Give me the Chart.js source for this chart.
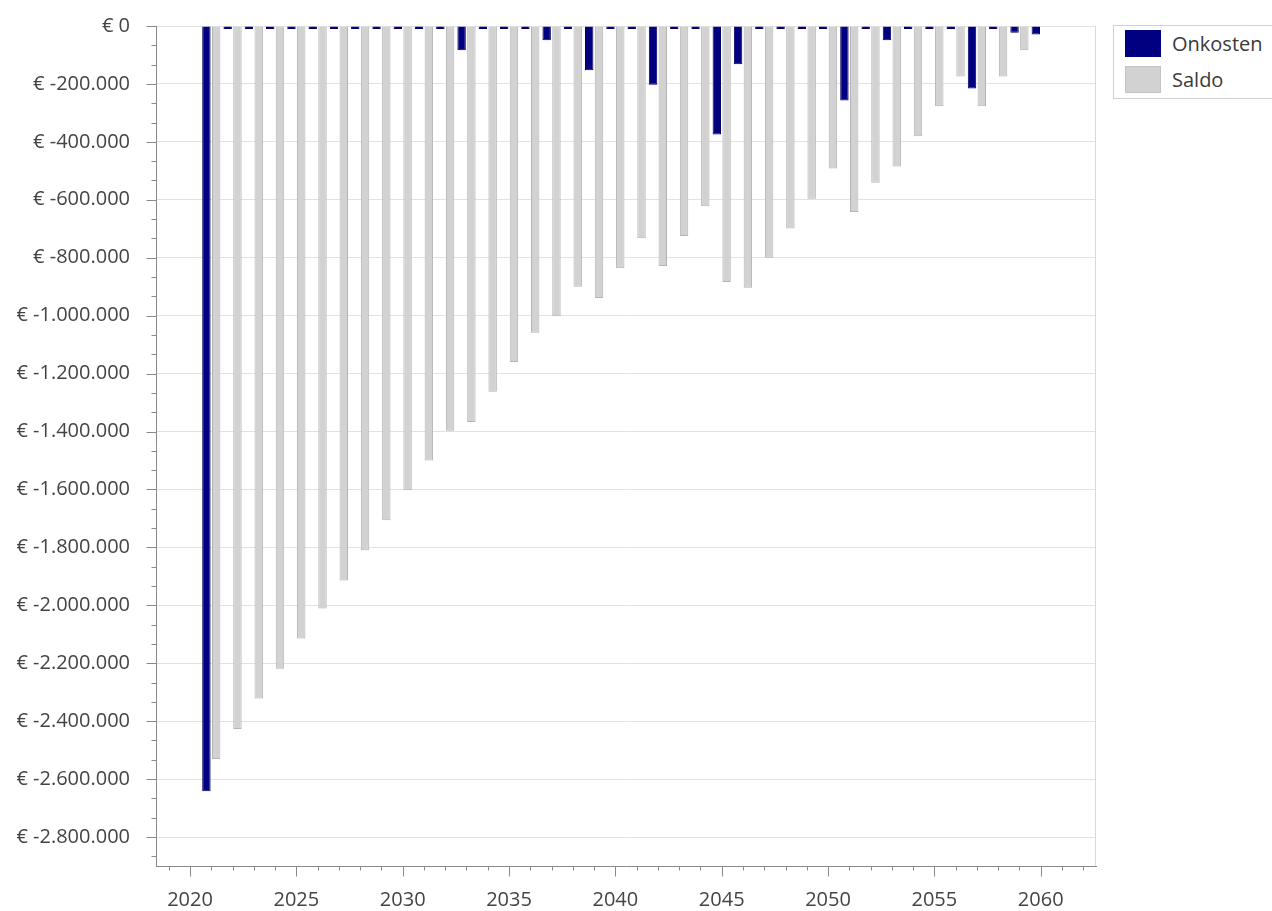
<!DOCTYPE html>
<html>
<head>
<meta charset="utf-8">
<title>Onkosten en saldo per jaar</title>
<script src="https://cdn.jsdelivr.net/npm/chart.js@4/dist/chart.umd.min.js"></script>
<style>
  html, body { margin: 0; padding: 0; background: #ffffff; overflow: hidden; }
  #wrap { position: relative; width: 1272px; height: 911px; }
  #chart { position: absolute; left: 0; top: 0; }
  #legend {
    position: absolute; left: 1113px; top: 25px; width: 200px; height: 74px;
    border: 1px solid #d0d0d0; box-sizing: border-box; background: #fff;
    font-family: "Open Sans", sans-serif; font-size: 20px; color: #3a3a3a;
  }
  #legend .item { position: absolute; left: 11px; height: 27px; display: flex; align-items: center; white-space: nowrap; }
  #legend .sw { width: 36px; height: 27px; box-sizing: border-box; margin-right: 11px; flex: none; }
</style>
</head>
<body>
<div id="wrap">
  <canvas id="chart" width="1272" height="911"></canvas>
  <div id="legend"></div>
</div>
<script>
// Years on the horizontal axis (one pair of bars per year)
const years = [
  2021, 2022, 2023, 2024, 2025, 2026, 2027, 2028, 2029, 2030,
  2031, 2032, 2033, 2034, 2035, 2036, 2037, 2038, 2039, 2040,
  2041, 2042, 2043, 2044, 2045, 2046, 2047, 2048, 2049, 2050,
  2051, 2052, 2053, 2054, 2055, 2056, 2057, 2058, 2059, 2060
];

// Costs per year (EUR)
const onkosten = [
  -2642000, -10000, -10000, -10000, -10000, -10000, -10000, -10000, -10000, -10000,
  -10000, -10000, -84000, -10000, -10000, -10000, -49000, -10000, -153000, -10000,
  -10000, -203000, -10000, -10000, -375000, -132000, -10000, -10000, -10000, -10000,
  -257000, -10000, -49000, -10000, -10000, -10000, -216000, -10000, -23000, -29000
];

// Running balance per year (EUR)
const saldo = [
  -2531000, -2427000, -2322000, -2219000, -2115000, -2011000, -1914000, -1810000, -1706000, -1603000,
  -1500000, -1397000, -1367000, -1263000, -1160000, -1059000, -1002000, -900000, -939000, -836000,
  -733000, -829000, -725000, -622000, -884000, -904000, -800000, -699000, -596000, -492000,
  -642000, -541000, -485000, -381000, -277000, -174000, -277000, -174000, -84000, -3000
];

// Labelled axis ticks
const xTickYears = [2020, 2025, 2030, 2035, 2040, 2045, 2050, 2055, 2060];
const yTickValues = [0, -200000, -400000, -600000, -800000, -1000000, -1200000, -1400000,
  -1600000, -1800000, -2000000, -2200000, -2400000, -2600000, -2800000];

const seriesNames = ['Onkosten', 'Saldo'];
const seriesFill = ['#000080', '#d2d2d2'];
const seriesEdge = ['#00005c', '#b4b4b4'];

function euro(v) {
  if (v === 0) return '€ 0';
  const s = Math.abs(Math.round(v)).toString().replace(/\B(?=(\d{3})+(?!\d))/g, '.');
  return '€ ' + (v < 0 ? '-' : '') + s;
}

// Tick marks (major + minor) and the light frame on the right of the plot
const axisDecor = {
  id: 'axisDecor',
  afterDraw(chart) {
    const { ctx, chartArea: a, scales: { x, y } } = chart;
    ctx.save();
    ctx.lineWidth = 1;

    ctx.strokeStyle = '#dadada';
    ctx.beginPath();
    const rx = Math.round(a.right) - 0.5;
    ctx.moveTo(rx, a.top);
    ctx.lineTo(rx, a.bottom);
    ctx.stroke();

    ctx.strokeStyle = '#8a8a8a';
    ctx.beginPath();
    const ax = Math.round(a.left) + 0.5;
    const minorStep = 200000 / 3;
    for (let k = 0; ; k++) {
      const v = -k * minorStep;
      if (v < y.min - 1) break;
      const py = Math.round(y.getPixelForValue(v)) + 0.5;
      const len = (k % 3 === 0) ? 10 : 5;
      ctx.moveTo(ax - len, py);
      ctx.lineTo(ax, py);
    }
    const ay = Math.round(a.bottom) + 0.5;
    for (let yr = Math.ceil(x.min); yr <= Math.floor(x.max); yr++) {
      const px = Math.round(x.getPixelForValue(yr)) + 0.5;
      const len = (yr % 5 === 0) ? 10 : 4;
      ctx.moveTo(px, ay);
      ctx.lineTo(px, ay + len);
    }
    ctx.stroke();
    ctx.restore();
  }
};

const tickFont = { family: '"Open Sans", sans-serif', size: 20 };

function noEdgePadding(scale) {
  scale.paddingTop = 0;
  scale.paddingBottom = 0;
  scale.paddingLeft = 0;
  scale.paddingRight = 0;
}

const chart = new Chart(document.getElementById('chart'), {
  type: 'bar',
  data: {
    datasets: [onkosten, saldo].map((vals, s) => ({
      label: seriesNames[s],
      data: years.map((yr, i) => ({ x: yr, y: vals[i] })),
      backgroundColor: seriesFill[s],
      borderColor: seriesEdge[s],
      borderWidth: 1,
      borderSkipped: 'start',
      categoryPercentage: 0.92,
      barPercentage: 0.86
    }))
  },
  options: {
    responsive: false,
    devicePixelRatio: 1,
    animation: false,
    layout: { padding: { left: 0, top: 26, right: 176, bottom: 0 } },
    plugins: {
      legend: { display: false },
      tooltip: { enabled: false }
    },
    scales: {
      x: {
        type: 'linear',
        position: 'bottom',
        offset: false,
        min: 2018.4,
        max: 2062.6,
        afterBuildTicks(scale) { scale.ticks = xTickYears.map(v => ({ value: v })); },
        afterFit(scale) { scale.height = 45; noEdgePadding(scale); },
        grid: { display: false, drawTicks: false, offset: false },
        border: { display: true, color: '#8a8a8a', width: 1 },
        ticks: {
          padding: 22,
          color: '#444444',
          font: tickFont,
          maxRotation: 0,
          autoSkip: false,
          callback: v => String(v)
        }
      },
      y: {
        type: 'linear',
        position: 'left',
        min: -2900000,
        max: 0,
        afterBuildTicks(scale) { scale.ticks = yTickValues.map(v => ({ value: v })); },
        afterFit(scale) { scale.width = 156; noEdgePadding(scale); },
        grid: { color: '#e2e2e2', drawTicks: false },
        border: { display: true, color: '#8a8a8a', width: 1 },
        ticks: {
          padding: 26,
          color: '#444444',
          font: tickFont,
          autoSkip: false,
          callback: v => euro(v)
        }
      }
    }
  },
  plugins: [axisDecor]
});

// Legend built from the chart's datasets
const legendEl = document.getElementById('legend');
chart.data.datasets.forEach((ds, i) => {
  const item = document.createElement('div');
  item.className = 'item';
  item.style.top = (i === 0 ? 4 : 40) + 'px';
  const sw = document.createElement('span');
  sw.className = 'sw';
  sw.style.background = ds.backgroundColor;
  if (i === 1) sw.style.border = '1px solid #c4c4c4';
  const tx = document.createElement('span');
  tx.textContent = ds.label;
  item.appendChild(sw);
  item.appendChild(tx);
  legendEl.appendChild(item);
});
</script>
</body>
</html>
